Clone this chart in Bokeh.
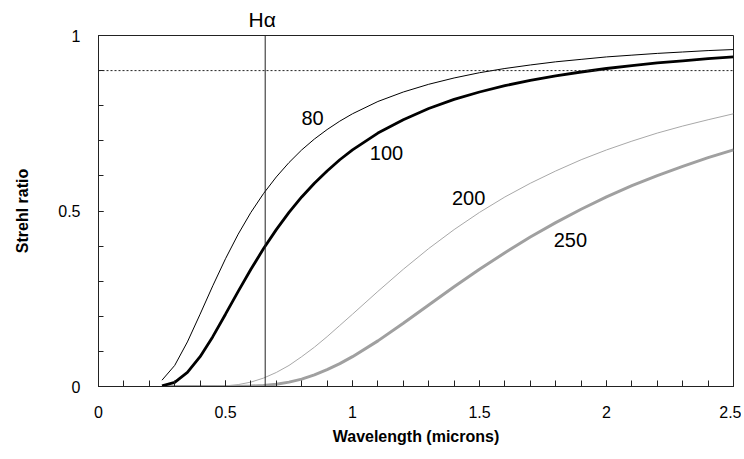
from bokeh.plotting import figure
from bokeh.models import FixedTicker, Span, Range1d
from bokeh.embed import file_html
from bokeh.resources import INLINE
from bokeh.core.properties import value

# Wavelength grid (microns)
wavelength = [0.25, 0.3, 0.35, 0.4, 0.45, 0.5, 0.55, 0.6, 0.65, 0.7, 0.75, 0.8, 0.85, 0.9, 0.95,
              1.0, 1.1, 1.2, 1.3, 1.4, 1.5, 1.6, 1.7, 1.8, 1.9, 2.0, 2.1, 2.2, 2.3, 2.4, 2.5]

# Strehl ratio curves, labelled by wavefront error (nm)
strehl_80 = [0.018, 0.060, 0.127, 0.206, 0.287, 0.364, 0.434, 0.496, 0.550, 0.597, 0.638, 0.674,
             0.705, 0.732, 0.756, 0.777, 0.812, 0.839, 0.861, 0.879, 0.894, 0.906, 0.916, 0.925,
             0.932, 0.939, 0.944, 0.949, 0.953, 0.957, 0.960]
strehl_100 = [0.002, 0.012, 0.040, 0.085, 0.142, 0.206, 0.271, 0.334, 0.393, 0.447, 0.496, 0.540,
              0.579, 0.614, 0.646, 0.674, 0.722, 0.760, 0.792, 0.818, 0.839, 0.857, 0.872, 0.885,
              0.896, 0.906, 0.914, 0.922, 0.928, 0.934, 0.939]
strehl_200 = [0.0, 0.0, 0.0, 0.0001, 0.0004, 0.0018, 0.0054, 0.0125, 0.024, 0.040, 0.060, 0.085,
              0.112, 0.142, 0.174, 0.206, 0.271, 0.334, 0.393, 0.447, 0.496, 0.540, 0.579, 0.614,
              0.646, 0.674, 0.699, 0.722, 0.742, 0.760, 0.777]
strehl_250 = [0.0, 0.0, 0.0, 0.0, 0.0, 0.0001, 0.0003, 0.0011, 0.0029, 0.0065, 0.0125, 0.021,
              0.033, 0.048, 0.065, 0.085, 0.130, 0.180, 0.232, 0.284, 0.334, 0.381, 0.426, 0.467,
              0.505, 0.540, 0.572, 0.601, 0.627, 0.652, 0.674]

curve_labels = ["80", "100", "200", "250"]
x_tick_values = [0, 0.5, 1, 1.5, 2, 2.5]
y_tick_values = [0, 0.5, 1]
x_minor = [i / 10 for i in range(26)]
y_minor = [i / 10 for i in range(11)]
h_alpha = 0.6563
strehl_threshold = 0.9

FONT = "Liberation Sans"

p = figure(width=741, height=451, output_backend="svg", toolbar_location=None,
           x_range=Range1d(0, 2.5), y_range=Range1d(0, 1),
           min_border_left=98, min_border_right=8, min_border_top=35, min_border_bottom=65,
           title="Hα")
p.background_fill_color = "white"
p.border_fill_color = "white"
p.outline_line_color = "#222222"
p.outline_line_width = 1
p.xgrid.visible = False
p.ygrid.visible = False

p.title.align = "left"
p.title.offset = 150
p.title.standoff = 10
p.title.text_font = FONT
p.title.text_font_size = "21px"
p.title.text_font_style = "normal"
p.title.text_color = "black"

for ax in (p.xaxis[0], p.yaxis[0]):
    ax.axis_line_color = "#222222"
    ax.major_tick_line_color = "#222222"
    ax.minor_tick_line_color = "#222222"
    ax.major_tick_out = 0
    ax.minor_tick_out = 0
    ax.major_label_text_font = FONT
    ax.major_label_text_font_size = "16px"
    ax.major_label_text_color = "black"
    ax.axis_label_text_font = FONT
    ax.axis_label_text_font_size = "16px"
    ax.axis_label_text_font_style = "bold"
    ax.axis_label_text_color = "black"

p.xaxis.ticker = FixedTicker(ticks=x_tick_values, minor_ticks=x_minor)
p.yaxis.ticker = FixedTicker(ticks=y_tick_values, minor_ticks=y_minor)
p.xaxis.major_label_overrides = {0: "0", 0.5: "0.5", 1: "1", 1.5: "1.5", 2: "2", 2.5: "2.5"}
p.yaxis.major_label_overrides = {0: "0", 0.5: "0.5", 1: "1"}
p.xaxis.major_tick_in = 6
p.xaxis.minor_tick_in = 6
p.yaxis.major_tick_in = 5
p.yaxis.minor_tick_in = 5
p.xaxis.major_label_standoff = 19
p.yaxis.major_label_standoff = 18
p.xaxis.axis_label = "Wavelength (microns)"
p.yaxis.axis_label = "Strehl ratio"
p.xaxis.axis_label_standoff = 7
p.yaxis.axis_label_standoff = 24

# reference lines
p.add_layout(Span(location=strehl_threshold, dimension="width", line_color="#222222",
                  line_width=1, line_dash="2 2"))
p.add_layout(Span(location=h_alpha, dimension="height", line_color="#222222", line_width=1))

# curves
p.line(wavelength, strehl_250, line_color="#a0a0a0", line_width=3)
p.line(wavelength, strehl_200, line_color="#a8a8a8", line_width=1)
p.line(wavelength, strehl_100, line_color="black", line_width=2.8)
p.line(wavelength, strehl_80, line_color="black", line_width=1)

# curve labels
label_x = [0.843, 1.134, 1.457, 1.858]
label_y = [0.766, 0.664, 0.538, 0.416]
p.text(x=label_x, y=label_y, text=curve_labels, text_font=value(FONT),
       text_font_size="20px", text_color="black", text_align="center",
       text_baseline="middle")

open("out.html", "w").write(file_html(p, INLINE))
